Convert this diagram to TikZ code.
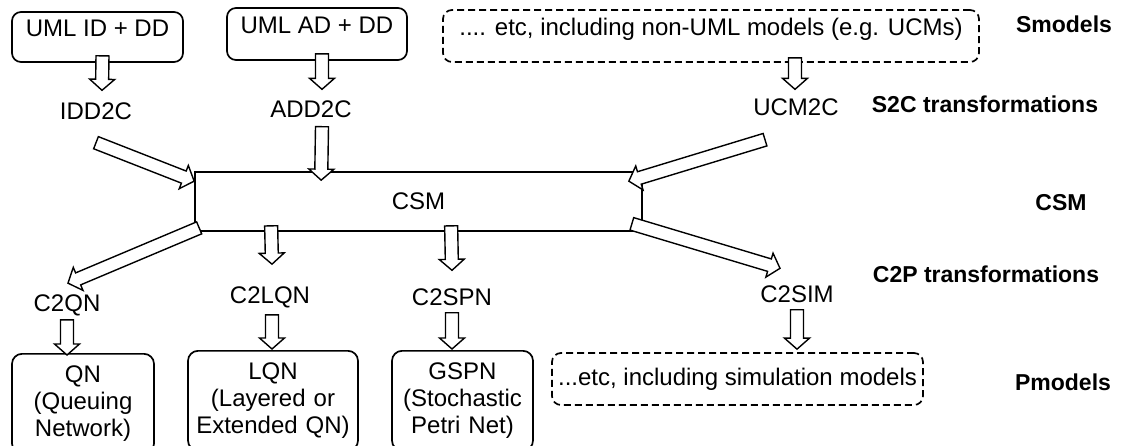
\documentclass[tikz,border=0pt]{standalone}
\usepackage{fontspec}
\setmainfont{Liberation Sans}
\usepackage{tikz}
\usetikzlibrary{calc}

\begin{document}
\begin{tikzpicture}[x=1pt, y=1pt, font=\fontsize{24}{27}\selectfont,
      smodel/.style={draw=black, line width=1.7pt, rounded corners=9pt, inner sep=0pt, text height=17pt, text depth=18pt},
      etcmodel/.style={draw=black, line width=1.7pt, rounded corners=9pt, inner sep=0pt, dash pattern=on 7pt off 4pt},
      pmodel/.style={draw=black, line width=1.7pt, rounded corners=10pt, anchor=north, align=center, inner xsep=0pt, inner ysep=12pt},
      trafo/.style={inner sep=2pt},
      layer/.style={inner sep=2pt, font=\fontsize{23}{27}\selectfont\bfseries},
      blockarrow/.style={draw=black, line width=1.4pt, fill=white, line join=miter,
        to path={let \p1=(\tikztostart), \p2=(\tikztotarget),
          \n1={atan2(\y2-\y1,\x2-\x1)}, \n2={veclen(\x2-\x1,\y2-\y1)-11pt} in
          ($(\p1)+(\n1+90:6.5pt)$) -- ($(\p1)+(\n1:\n2)+(\n1+90:6.5pt)$)
          -- ($(\p1)+(\n1:\n2)+(\n1+90:12.5pt)$) -- (\p2)
          -- ($(\p1)+(\n1:\n2)+(\n1-90:12.5pt)$) -- ($(\p1)+(\n1:\n2)+(\n1-90:6.5pt)$)
          -- ($(\p1)+(\n1-90:6.5pt)$) -- cycle}}]
      \useasboundingbox (0,0) rectangle (1135,-445);
      \clip (0,0) rectangle (1135,-445);
      % source models
      \node[smodel, minimum width=171pt, minimum height=50pt] (umlid) at (97.5,-37) {UML ID + DD};
      \node[smodel, minimum width=180pt, minimum height=52pt] (umlad) at (317,-34) {UML AD + DD};
      \node[etcmodel, minimum width=536pt, minimum height=52pt, text height=17pt, text depth=18pt] (nonuml) at (711,-36) {.... etc, including non-UML models (e.g. UCMs)};
      % S2C
      \node[trafo] (idd2c) at (96,-111) {IDD2C};
      \node[trafo] (add2c) at (311,-109) {ADD2C};
      \node[trafo] (ucm2c) at (796,-107) {UCM2C};
      % core scenario model
      \node[draw=black, line width=1.7pt, minimum width=447pt, minimum height=59pt] (csm) at (418.5,-201.5) {CSM};
      % C2P
      \node[trafo] (c2qn) at (67,-305) {C2QN};
      \node[trafo] (c2lqn) at (270,-297) {C2LQN};
      \node[trafo] (c2spn) at (452,-297) {C2SPN};
      \node[trafo] (c2sim) at (797,-294) {C2SIM};
      % performance models
      \node[pmodel, text width=142pt] (qn) at (83,-353) {QN\\(Queuing\\Network)};
      \node[pmodel, text width=170pt] (lqn) at (273,-350) {LQN\\(Layered or\\Extended QN)};
      \node[pmodel, text width=141pt] (gspn) at (462.5,-350) {GSPN\\(Stochastic\\Petri Net)};
      \node[etcmodel, minimum width=371pt, minimum height=52pt] (simmodels) at (737.5,-379) {...etc, including simulation models};
      % layer names
      \node[layer] (smodels) at (1064,-24) {Smodels};
      \node[layer] (s2c) at (985,-104) {S2C transformations};
      \node[layer] (csmlayer) at (1061,-203) {CSM};
      \node[layer] (c2p) at (986,-274) {C2P transformations};
      \node[layer] (pmodels) at (1063,-382) {Pmodels};
      % arrows
      \draw[blockarrow] ([xshift=5pt,yshift=7pt]umlid.south) to ([xshift=6pt,yshift=10pt]idd2c.north);
      \draw[blockarrow] ([xshift=5pt,yshift=7pt]umlad.south) to ([xshift=11pt,yshift=9pt]add2c.north);
      \draw[blockarrow] ([xshift=84pt,yshift=5pt]nonuml.south) to ([xshift=-1pt,yshift=7pt]ucm2c.north);
      \draw[blockarrow] ([yshift=-21pt]idd2c.south) to ([yshift=-10pt]csm.north west);
      \draw[blockarrow] ([xshift=11pt,yshift=-7pt]add2c.south) to ([xshift=127pt,yshift=-9pt]csm.north west);
      \draw[blockarrow] ([xshift=-31pt,yshift=-22pt]ucm2c.south) to ([xshift=-14pt,yshift=-10pt]csm.north east);
      \draw[blockarrow] ([xshift=5pt,yshift=4pt]csm.south west) to ([xshift=1pt,yshift=9pt]c2qn.north);
      \draw[blockarrow] ([xshift=77pt,yshift=6pt]csm.south west) to ([xshift=2pt,yshift=20pt]c2lqn.north);
      \draw[blockarrow] ([xshift=257pt,yshift=6pt]csm.south west) to ([yshift=16pt]c2spn.north);
      \draw[blockarrow] ([xshift=-11pt,yshift=8pt]csm.south east) to ([xshift=-17pt,yshift=15pt]c2sim.north);
      \draw[blockarrow] ([yshift=-2pt]c2qn.south) to ([xshift=-16pt,yshift=-2pt]qn.north);
      \draw[blockarrow] ([xshift=2pt,yshift=-5pt]c2lqn.south) to ([xshift=-1pt,yshift=1pt]lqn.north);
      \draw[blockarrow] ([yshift=-5pt]c2spn.south) to ([xshift=-10.5pt,yshift=1pt]gspn.north);
      \draw[blockarrow] ([yshift=-5pt]c2sim.south) to ([xshift=59.5pt,yshift=3pt]simmodels.north);
\end{tikzpicture}
\end{document}
